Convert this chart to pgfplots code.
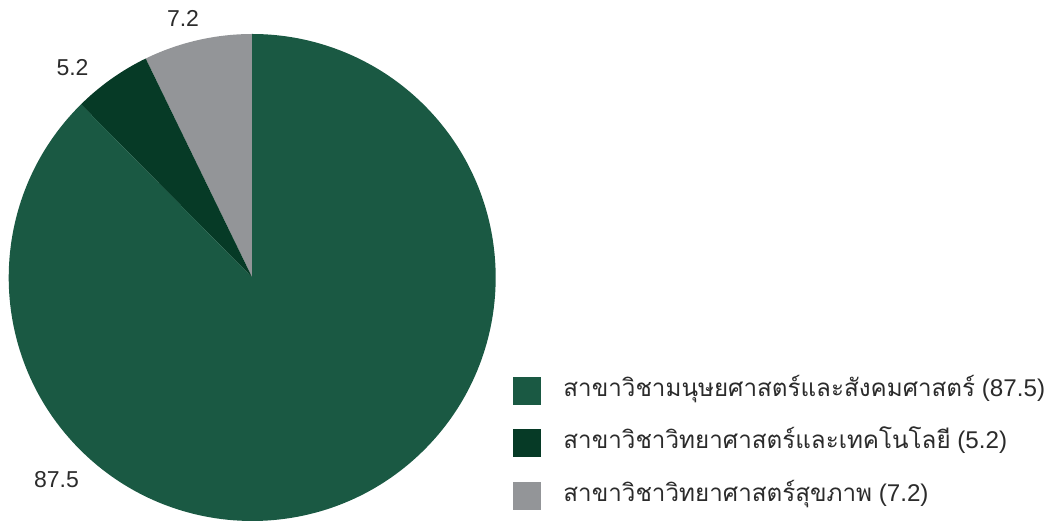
\documentclass[border=0pt]{standalone}
\usepackage{pgfplots}
\pgfplotsset{compat=1.18}
\usepackage{pgfplotstable}
\usepackage{fontspec}
\setmainfont{Liberation Sans}
\newfontfamily\thaifont[Script=Thai]{Loma}
\definecolor{cA}{HTML}{1A5943}
\definecolor{cB}{HTML}{063A26}
\definecolor{cC}{HTML}{939598}
\definecolor{txt}{HTML}{2B2B2B}

% pie values (percent): humanities, science & technology, health science
\pgfplotstableread{
value
87.5
5.2
7.2
}\piedata

\begin{document}
\begin{tikzpicture}
\pgfplotstablegetelem{0}{value}\of\piedata \let\vA\pgfplotsretval
\pgfplotstablegetelem{1}{value}\of\piedata \let\vB\pgfplotsretval
\pgfplotstablegetelem{2}{value}\of\piedata \let\vC\pgfplotsretval
\pgfmathsetmacro{\sumv}{\vA+\vB+\vC}
\pgfmathsetmacro{\aC}{90+\vC/\sumv*360}
\pgfmathsetmacro{\aB}{\aC+\vB/\sumv*360}
\def\R{243.5pt}
\begin{axis}[
  name=ax,
  x=1pt, y=1pt,
  xmin=0, xmax=1048, ymin=0, ymax=522,
  hide axis, clip=false,
  legend style={at={(axis cs:513,145)}, anchor=north west, draw=none, fill=none,
    inner sep=0pt, outer sep=0pt, row sep=25pt, column sep=0pt,
    font=\fontsize{24.2}{28}\selectfont\color{txt},
    nodes={inner sep=0pt, text height=16pt, text depth=5pt},
    cells={anchor=west}},
  legend image code/.code={\fill[#1] (0pt,-13.5pt) rectangle (27pt,13.5pt); \path (50pt,0pt);},
]
\fill[cC] (axis cs:252.2,244.5) -- ++(90:\R) arc[start angle=90, end angle=\aC, radius=\R] -- cycle;
\fill[cB] (axis cs:252.2,244.5) -- ++(\aC:\R) arc[start angle=\aC, end angle=\aB, radius=\R] -- cycle;
\fill[cA] (axis cs:252.2,244.5) -- ++(\aB:\R) arc[start angle=\aB, end angle=450, radius=\R] -- cycle;

\node[txt, font=\fontsize{23}{27}\selectfont] at (axis cs:183,504) {7.2};
\node[txt, font=\fontsize{23}{27}\selectfont] at (axis cs:72.5,454) {5.2};
\node[txt, font=\fontsize{23}{27}\selectfont] at (axis cs:56.5,42) {87.5};

\addlegendimage{cA}
\addlegendentry{{\thaifont สาขาวิชามนุษยศาสตร์และสังคมศาสตร์} (87.5)}
\addlegendimage{cB}
\addlegendentry{{\thaifont สาขาวิชาวิทยาศาสตร์และเทคโนโลยี} (5.2)}
\addlegendimage{cC}
\addlegendentry{{\thaifont สาขาวิชาวิทยาศาสตร์สุขภาพ} (7.2)}
\end{axis}
\pgfresetboundingbox
\useasboundingbox (ax.south west) rectangle (ax.north east);
\end{tikzpicture}
\end{document}
